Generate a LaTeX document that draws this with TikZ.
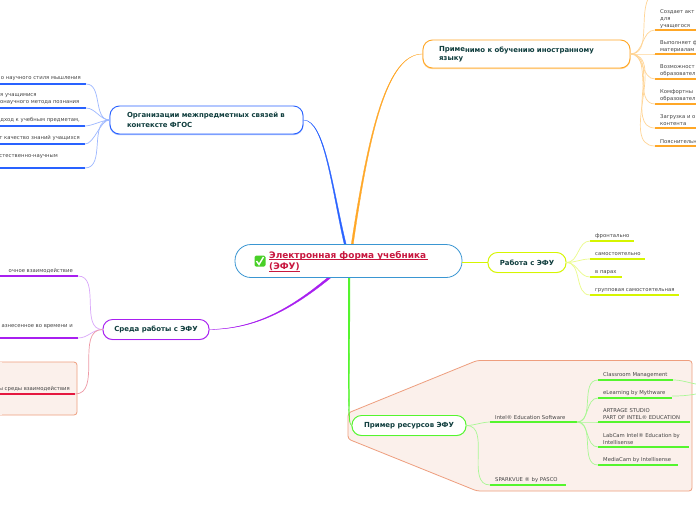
\documentclass[tikz,border=0pt]{standalone}
\usepackage{fontspec}
\setmainfont{DejaVu Sans}
\usetikzlibrary{calc}
\definecolor{cblue}{HTML}{2962FF}\definecolor{lblue}{HTML}{9DB8FF}
\definecolor{corange}{HTML}{FFA726}\definecolor{lorange}{HTML}{FFD596}
\definecolor{cpurple}{HTML}{A81FF0}\definecolor{lpurple}{HTML}{D9A6FA}
\definecolor{cgreen}{HTML}{55F52E}\definecolor{lgreen}{HTML}{A9F894}
\definecolor{cyellow}{HTML}{D6F500}\definecolor{lyellow}{HTML}{EBFB8A}
\definecolor{cred}{HTML}{E5173F}\definecolor{lred}{HTML}{EE9AA6}
\definecolor{bgfill}{HTML}{FBF0EB}\definecolor{bgline}{HTML}{EE9E7E}
\definecolor{ctitle}{HTML}{0F3D3D}\definecolor{ctext}{HTML}{444444}
\definecolor{ccentre}{HTML}{3A96D2}\definecolor{ccrimson}{HTML}{C8173F}
\tikzset{
 topic/.style={draw=#1,line width=0.9pt,fill=white,rounded corners=9.5pt,inner ysep=0pt,inner xsep=0pt,
   font=\fontsize{6.95}{9.4}\selectfont\bfseries,text=ctitle,align=center},
 topicshadow/.style={draw=#1,line width=1.1pt,rounded corners=9.5pt},
 leaflabel/.style={anchor=west,yshift=-1.4pt,inner sep=0pt,font=\fontsize{5.3}{6.7}\selectfont,text=ctext,align=left},
 leaflabelr/.style={anchor=east,yshift=-1.4pt,inner sep=0pt,font=\fontsize{5.3}{6.7}\selectfont,text=ctext,align=right},
 under/.style={draw=#1,line width=1.3pt},
 thread/.style={draw=#1,line width=0.7pt},
 bgshape/.style={fill=bgfill,draw=bgline,line width=0.8pt,rounded corners=3pt},
}
% \ul{name}{x1}{x2}{y}{colour}: underline with named ends
\newcommand{\ul}[5]{\coordinate (#1-a) at (#2,#4);\coordinate (#1-b) at (#3,#4);\draw[under=#5] (#1-a) -- (#1-b);}
\begin{document}
\begin{tikzpicture}[x=1pt,y=-1pt]
\useasboundingbox (0,0) rectangle (696,520);
\fill[white] (0,0) rectangle (696,520);
% backgrounds
\draw[bgshape] (0,362) -- (77,362) -- (77,415) -- (0,415);
\fill[bgfill] (0,362.4) rectangle (2,414.6);
\draw[bgshape] (348,413) -- (477,360.5) -- (692,360.5) -- (692,491) -- (477,491) -- (348,439) -- cycle;
% anchors on the central node
\coordinate (cb1) at (344.6,246);\coordinate (cb2) at (346.6,246);
\coordinate (co1) at (351,246);\coordinate (co2) at (353,246);
\coordinate (cg1) at (348.2,276);\coordinate (cg2) at (350,276);
\coordinate (cp1) at (329,276.5);\coordinate (cp2) at (330.5,278);
% topic boxes
\draw[topicshadow=lblue] (110,106.8) rectangle (303,134.6);
\draw[topicshadow=lorange] (423,40.8) rectangle (630,68.6);
\draw[topicshadow=lpurple] (103,319.8) rectangle (209,339.6);
\draw[topicshadow=lgreen] (352,415.8) rectangle (466,435.6);
\draw[topicshadow=lyellow] (488,252.8) rectangle (566,272.6);
\node[topic=cblue,minimum width=193pt,minimum height=28pt,text width=159pt,align=left] (blue) at (206.5,120)
  {Организации межпредметных связей в\\контексте ФГОС};
\node[topic=corange,minimum width=207pt,minimum height=28pt,text width=175pt,align=left] (orange) at (526.5,54)
  {Приме\raisebox{-1pt}{нимо к обучению иностранному}\\языку};
\node[topic=cpurple,minimum width=106pt,minimum height=20pt] (purple) at (156,329.5) {Среда работы с ЭФУ};
\node[topic=cgreen,minimum width=114pt,minimum height=20pt] (green) at (409,425.5) {Пример ресурсов ЭФУ};
\node[topic=cyellow,minimum width=78pt,minimum height=20pt] (yellow) at (527,262.5) {Работа с ЭФУ};
% main branches (tapered)
\filldraw[cblue,line width=0.3pt] (blue.east) .. controls (325.4,120) and (332.6,190) .. (cb2) -- (cb1) .. controls (331.6,190) and (324.6,120) .. (blue.east) -- cycle;
\filldraw[corange,line width=0.3pt] (orange.west) .. controls (387.6,54) and (369.6,130) .. (co2) -- (co1) .. controls (368.6,130) and (386.8,54) .. (orange.west) -- cycle;
\filldraw[cpurple,line width=0.3pt] (purple.east) .. controls (250,329) and (285,315) .. (cp2) -- (cp1) .. controls (284,314.2) and (250,328.6) .. (purple.east) -- cycle;
\filldraw[cgreen,line width=0.3pt] (green.west) .. controls (348,425) and (349.8,400) .. (cg2) -- (cg1) .. controls (348.4,400) and (347.2,424) .. (green.west) -- cycle;
% central node
\node[draw=ccentre,line width=0.8pt,fill=white,rounded corners=16pt,minimum width=227pt,minimum height=33pt,inner sep=0pt] (centre) at (348.5,261) {};
\draw[cyellow,line width=0.9pt] (centre.east |- yellow.west) -- (yellow.west);
\node[anchor=west,inner sep=0pt,text=ccrimson,font=\fontsize{8.95}{11}\selectfont\bfseries,align=left] (ctitle) at (269,261.5) {Электронная форма учебника\\(ЭФУ)};
\draw[ccrimson,line width=0.5pt] (269,259.6) -- (428,259.6) (269,270.8) -- (300,270.8);
\node[fill=cgreen!85!black,rounded corners=1.5pt,minimum size=11pt,inner sep=0pt] (tick) at (260,261) {};
\draw[white,line width=1.4pt] (256.5,261) -- (259,264.5) -- (263.5,257);
% blue leaves
\ul{b1}{0}{86}{84}{cblue}\ul{b2}{0}{86}{108}{cblue}\ul{b3}{0}{85}{126}{cblue}\ul{b4}{0}{85}{144}{cblue}\ul{b5}{0}{85}{168}{cblue}
\node[leaflabelr] (tb1) at (81,77) {о научного стиля мышления};
\node[leaflabel] (tb2) at (0,98) {я учащимися\\онаучного метода познания};
\node[leaflabelr] (tb3) at (80,119) {дход к учебным предметам,};
\node[leaflabelr] (tb4) at (80,137) {т качество знаний учащихся};
\node[leaflabelr] (tb5) at (58,155) {стественно-научным};
\foreach \n/\l in {b1/1.0,b2/0.9,b3/0.7,b4/0.7,b5/1.0}
  \draw[thread=lblue] (blue.west) to[out=180,in=0,looseness=\l] (\n-b);
% orange leaves
\coordinate (o0) at (648,-1);
\ul{o1}{655}{696}{30}{corange}\ul{o2}{655}{696}{54}{corange}\ul{o3}{655}{696}{79}{corange}\ul{o4}{655}{696}{104}{corange}\ul{o5}{655}{696}{128}{corange}\ul{o6}{655}{696}{146}{corange}
\node[leaflabel] (to1) at (660,17.5) {Создает акт\\для\\учащегося};
\node[leaflabel] (to2) at (660,45) {Выполняет ф\\материалам};
\node[leaflabel] (to3) at (660,69.5) {Возможност\\образовател};
\node[leaflabel] (to4) at (660,94) {Комфортны\\образовател};
\node[leaflabel] (to5) at (660,118.5) {Загрузка и о\\контента};
\node[leaflabel] (to6) at (660,140) {Пояснительн};
\draw[thread=lorange] (orange.east) to[out=0,in=-115,looseness=0.9] (o0);
\foreach \n/\l in {o1/1.0,o2/0.8,o3/1.0,o4/1.0,o5/1.0,o6/1.0}
  \draw[thread=lorange] (orange.east) to[out=0,in=180,looseness=\l] (\n-a);
% yellow leaves
\ul{y1}{590}{634}{241}{cyellow}\ul{y2}{590}{645}{259}{cyellow}\ul{y3}{590}{622}{277}{cyellow}\ul{y4}{590}{679}{295}{cyellow}
\node[leaflabel] (ty1) at (595,235) {фронтально};
\node[leaflabel] (ty2) at (595,253) {самостоятельно};
\node[leaflabel] (ty3) at (595,271) {в парах};
\node[leaflabel] (ty4) at (595,289) {групповая самостоятельная};
\foreach \n in {y1,y2,y3,y4}
  \draw[thread=lyellow] (yellow.east) to[out=0,in=180] (\n-a);
% purple leaves
\ul{p1}{0}{78}{276}{cpurple}\ul{p2}{0}{78}{338}{cpurple}\ul{p3}{0}{75}{394}{cred}
\node[leaflabel] (tp1) at (8.5,269) {очное взаимодействие};
\node[leaflabelr] (tp2) at (73,325) {азнесенное во времени и};
\node[leaflabelr] (tp3) at (70,388) {ы среды взаимодействия};
\draw[thread=lpurple] (purple.west) to[out=180,in=0] (p1-b);
\draw[thread=lpurple] (purple.west) to[out=180,in=0] (p2-b);
\draw[thread=lred] (purple.west) to[out=180,in=0] (p3-b);
% green leaves
\ul{g1}{490}{577}{422}{cgreen}\ul{g2}{490}{566}{485}{cgreen}
\node[leaflabel] (tg1) at (495,416) {Intel® Education Software};
\node[leaflabel] (tg2) at (495,479) {SPARKVUE ® by PASCO};
\draw[thread=lgreen] (green.east) to[out=0,in=180,looseness=0.8] (g1-a);
\draw[thread=lgreen] (green.east) to[out=0,in=180] (g2-a);
\ul{h1}{598}{673}{380}{cgreen}\ul{h2}{598}{672}{398}{cgreen}\ul{h3}{598}{690}{422}{cgreen}\ul{h4}{598}{689}{447}{cgreen}\ul{h5}{598}{678}{465}{cgreen}
\node[leaflabel] (th1) at (603,374) {Classroom Management};
\node[leaflabel] (th2) at (603,392) {eLearning by Mythware};
\node[leaflabel] (th3) at (603,413) {ARTRAGE STUDIO\\PART OF INTEL® EDUCATION};
\node[leaflabel] (th4) at (603,437.5) {LabCam Intel® Education by\\Intellisense};
\node[leaflabel] (th5) at (603,459) {MediaCam by Intellisense};
\foreach \n in {h1,h2,h3,h4,h5}
  \draw[thread=lgreen] (g1-b) to[out=0,in=180] (\n-a);
\coordinate (x1) at (696,384);\coordinate (x2) at (696,394);
\coordinate (x3) at (672,396);
\draw[thread=lgreen] (h1-b) to[out=0,in=170] (x1);
\draw[thread=lgreen] (x3) to[out=0,in=190] (x2);
\end{tikzpicture}
\end{document}
